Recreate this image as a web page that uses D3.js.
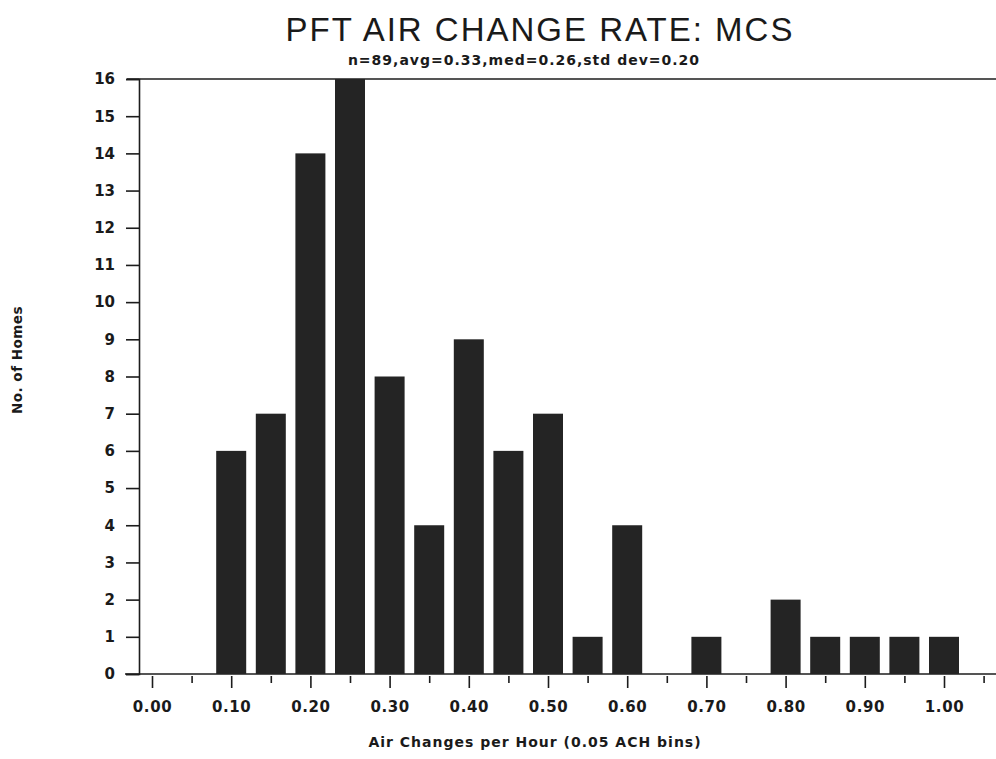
<!DOCTYPE html>
<html>
<head>
<meta charset="utf-8">
<script src="https://cdn.jsdelivr.net/npm/d3@7"></script>
<style>
  html, body { margin: 0; padding: 0; background: #fff; }
  svg { display: block; }
  text { fill: #1a1a1a; }
</style>
</head>
<body>
<svg id="chart" width="996" height="759"></svg>
<script>
// Histogram bins (ACH, 0.05 wide) and number of homes in each
const binCenters = [0.10, 0.15, 0.20, 0.25, 0.30, 0.35, 0.40, 0.45, 0.50, 0.55, 0.60, 0.70, 0.80, 0.85, 0.90, 0.95, 1.00];
const homeCounts = [6, 7, 14, 16, 8, 4, 9, 6, 7, 1, 4, 1, 2, 1, 1, 1, 1];

// Axis tick values
const xTickValues = [0.00, 0.05, 0.10, 0.15, 0.20, 0.25, 0.30, 0.35, 0.40, 0.45, 0.50,
                     0.55, 0.60, 0.65, 0.70, 0.75, 0.80, 0.85, 0.90, 0.95, 1.00, 1.05];
const xTickLabels = ["0.00", "0.10", "0.20", "0.30", "0.40", "0.50", "0.60", "0.70", "0.80", "0.90", "1.00"];
const yTickValues = [0, 1, 2, 3, 4, 5, 6, 7, 8, 9, 10, 11, 12, 13, 14, 15, 16];

const titleText = "PFT AIR CHANGE RATE: MCS";
const subtitleText = "n=89,avg=0.33,med=0.26,std dev=0.20";
const xAxisTitle = "Air Changes per Hour (0.05 ACH bins)";
const yAxisTitle = "No. of Homes";

const svg = d3.select("#chart");
const ink = "#1c1c1c";
const labelFont = "'DejaVu Sans', Verdana, sans-serif";

const x = d3.scaleLinear().domain([0, 1]).range([152, 944]);
const y = d3.scaleLinear().domain([0, 16]).range([674, 79]);
const barWidth = 30;

// Frame: top rule and baseline
svg.append("line").attr("x1", 127).attr("x2", 996).attr("y1", y(16)).attr("y2", y(16))
  .attr("stroke", ink).attr("stroke-width", 1.6);
svg.append("line").attr("x1", 125).attr("x2", 996).attr("y1", y(0)).attr("y2", y(0))
  .attr("stroke", ink).attr("stroke-width", 1.6);

// Bars
svg.append("g").selectAll("rect")
  .data(binCenters.map((c, i) => ({ c, n: homeCounts[i] })))
  .join("rect")
  .attr("x", d => x(d.c) - barWidth / 2)
  .attr("width", barWidth)
  .attr("y", d => y(d.n))
  .attr("height", d => y(0) - y(d.n))
  .attr("fill", "#242424");

// Y axis
const yAxis = svg.append("g")
  .attr("transform", `translate(139,0)`)
  .call(d3.axisLeft(y).tickValues(yTickValues).tickSize(13).tickPadding(11).tickFormat(d3.format("d")));
yAxis.select(".domain").attr("stroke", ink).attr("stroke-width", 1.6);
yAxis.selectAll(".tick line").attr("stroke", ink).attr("stroke-width", 1.6);
yAxis.selectAll(".tick text")
  .attr("font-family", labelFont).attr("font-weight", "bold").attr("font-size", 15)
  .attr("fill", ink);

// X axis: long ticks at labelled 0.10 steps, short ticks between
const labelled = new Set(xTickLabels);
const fmt = d3.format(".2f");
const xAxis = svg.append("g")
  .attr("transform", `translate(0,${y(0)})`)
  .call(d3.axisBottom(x).tickValues(xTickValues).tickSize(0).tickPadding(0)
    .tickFormat(d => labelled.has(fmt(d)) ? fmt(d) : ""));
xAxis.select(".domain").remove();
xAxis.selectAll(".tick line")
  .attr("y1", 2)
  .attr("y2", d => labelled.has(fmt(d)) ? 14 : 9)
  .attr("stroke", ink).attr("stroke-width", 1.6);
xAxis.selectAll(".tick text")
  .attr("y", 38)
  .attr("dy", 0)
  .attr("letter-spacing", 0.6)
  .attr("font-family", labelFont).attr("font-weight", "bold").attr("font-size", 15)
  .attr("fill", ink);

// Titles
svg.append("text").attr("x", 540).attr("y", 41).attr("text-anchor", "middle")
  .attr("font-family", "'Liberation Sans', Arial, sans-serif").attr("font-size", 33)
  .attr("letter-spacing", 2)
  .text(titleText);
svg.append("text").attr("x", 524).attr("y", 65).attr("text-anchor", "middle")
  .attr("font-family", labelFont).attr("font-weight", "bold").attr("font-size", 14)
  .attr("letter-spacing", 1)
  .text(subtitleText);
svg.append("text").attr("x", 535).attr("y", 747).attr("text-anchor", "middle")
  .attr("font-family", labelFont).attr("font-weight", "bold").attr("font-size", 14)
  .attr("letter-spacing", 1)
  .text(xAxisTitle);
svg.append("text")
  .attr("transform", `translate(22,360) rotate(-90)`)
  .attr("text-anchor", "middle")
  .attr("font-family", labelFont).attr("font-weight", "bold").attr("font-size", 13.5)
  .attr("letter-spacing", 0.5)
  .text(yAxisTitle);
</script>
</body>
</html>
